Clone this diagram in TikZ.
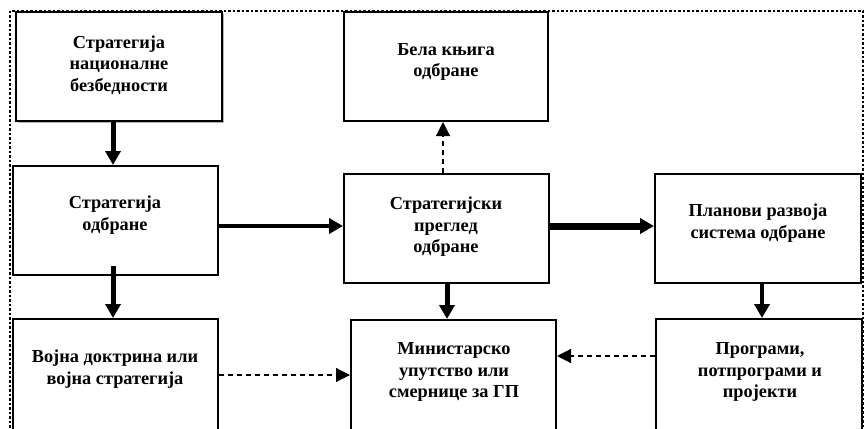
\documentclass[tikz,border=0pt]{standalone}
\usepackage{fontspec}
\setmainfont{Liberation Serif}
\usetikzlibrary{arrows.meta,shadows}
\begin{document}
\begin{tikzpicture}[x=1pt,y=-1pt,
  box/.style={draw,line width=2pt,fill=white,minimum width=#1,minimum height=109pt,inner sep=0pt},
  box/.default=205pt,
  lbl/.style={align=center,font=\bfseries\fontsize{18.3}{21.5}\selectfont,inner sep=0pt},
  solidarrow/.style={draw,line width=#1,-{Triangle[width=15pt,length=14pt]}},
  dasharrow/.style={draw,line width=1.2pt,dash pattern=on 5pt off 4pt,-{Triangle[width=14pt,length=14pt]}},
  frame/.style={draw,line width=2.5pt,dash pattern=on 2.5pt off 2pt}]
\clip (0,0) rectangle (864,428);
\draw[frame] (10,11) rectangle (863,445);
% boxes
\node[box=206pt,drop shadow={shadow xshift=2pt,shadow yshift=-2pt,fill=black!60}] (nsb) at (119,66.5) {};
\node[box] (so) at (115.5,220.5) {};
\node[box=204pt] (bela) at (446,66.5) {};
\node[box] (spo) at (446.5,228.5) {};
\node[box=206pt] (plan) at (758,228.5) {};
\node[box,minimum height=130pt] (vd) at (115.5,384) {};
\node[box,minimum height=130pt] (mu) at (453.5,385) {};
\node[box=206pt,minimum height=130pt] (prog) at (759,384) {};
% labels
\node[lbl] (tnsb) at (119,65) {Стратегија\\националне\\безбедности};
\node[lbl] (tso) at (115,215) {Стратегија\\одбране};
\node[lbl] (tbela) at (446,62) {Бела књига\\одбране};
\node[lbl] (tspo) at (446,227) {Стратегијски\\преглед\\одбране};
\node[lbl] (tplan) at (758,223) {Планови развоја\\система одбране};
\node[lbl] (tvd) at (115,369) {Војна доктрина или\\војна стратегија};
\node[lbl] (tmu) at (454,372) {Министарско\\упутство или\\смернице за ГП};
\node[lbl] (tprog) at (760,372) {Програми,\\потпрограми и\\пројекти};
% connectors
\draw[solidarrow=5pt] ([xshift=-6pt]nsb.south) -- ([xshift=-2.5pt]so.north);
\draw[solidarrow=5pt] ([xshift=-2.5pt,yshift=10pt]so.south) -- ([xshift=-2.5pt]vd.north);
\draw[solidarrow=4pt] ([yshift=-5.5pt]so.east) -- ([yshift=2.5pt]spo.west);
\draw[solidarrow=7pt] ([yshift=2.5pt]spo.east) -- ([yshift=2.5pt]plan.west);
\draw[solidarrow=5pt] ([xshift=0.5pt]spo.south) -- ([xshift=-6.5pt]mu.north);
\draw[solidarrow=4pt] ([xshift=4pt]plan.south) -- ([xshift=3pt]prog.north);
\draw[dasharrow] ([xshift=-3.5pt]spo.north) -- ([xshift=-3pt]bela.south);
\draw[dasharrow] ([yshift=-57pt]vd.north east) -- ([yshift=-56pt]mu.north west);
\draw[dasharrow] ([yshift=-38pt]prog.north west) -- ([yshift=-37pt]mu.north east);
\end{tikzpicture}
\end{document}
